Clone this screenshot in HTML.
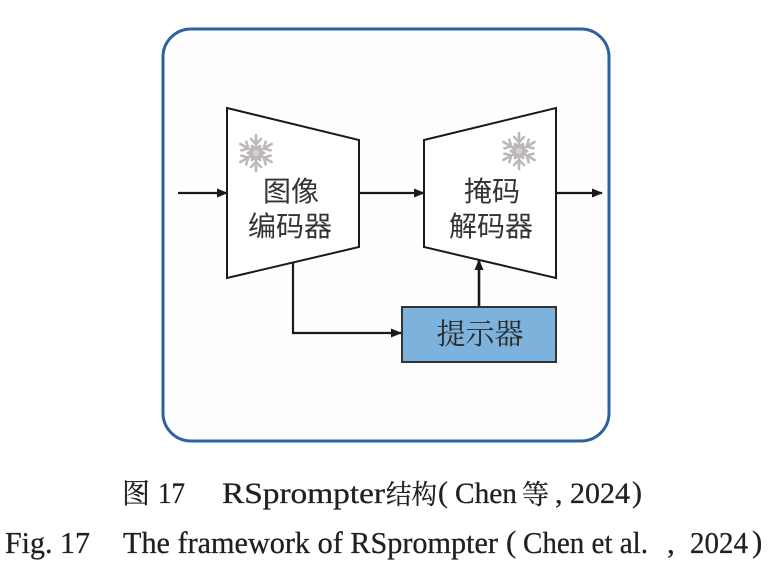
<!DOCTYPE html>
<html><head><meta charset="utf-8"><style>
html,body{margin:0;padding:0;background:#fff;}
svg{display:block;}
</style></head><body>
<svg width="779" height="569" viewBox="0 0 779 569" xmlns="http://www.w3.org/2000/svg">
<defs>
<marker id="ah" markerWidth="11" markerHeight="9" refX="10" refY="4.5" orient="auto" markerUnits="userSpaceOnUse">
<path d="M0,0 L11,4.5 L0,9 z" fill="#1a1a1a"/>
</marker>
<g id="flake" stroke="#bdb8b8" stroke-width="2.6" fill="none" stroke-linecap="round">
<line x1="0" y1="-18" x2="0" y2="18"/>
<line x1="-15.6" y1="-9" x2="15.6" y2="9"/>
<line x1="-15.6" y1="9" x2="15.6" y2="-9"/>
<g id="br"><path d="M-5,-14 L0,-9 L5,-14 M-4,-7 L0,-4 L4,-7"/></g>
<use href="#br" transform="rotate(60)"/>
<use href="#br" transform="rotate(120)"/>
<use href="#br" transform="rotate(180)"/>
<use href="#br" transform="rotate(240)"/>
<use href="#br" transform="rotate(300)"/>
<circle r="4" fill="#d4d0d0" stroke="#bdb8b8" stroke-width="1.5"/>
</g>
</defs>

<!-- outer rounded frame -->
<rect x="163" y="29" width="446" height="412" rx="28" ry="28" fill="#fefefe" stroke="#2d62a0" stroke-width="3"/>

<!-- encoder trapezoid -->
<polygon points="227,108 359,140 359,247 227,278" fill="#fff" stroke="#1a1a1a" stroke-width="2"/>
<!-- decoder trapezoid -->
<polygon points="424,140 556,108 556,278 424,247" fill="#fff" stroke="#1a1a1a" stroke-width="2"/>

<!-- snowflakes -->
<use href="#flake" transform="translate(256,153)"/>
<use href="#flake" transform="translate(519,151)"/>

<!-- arrows -->
<line x1="178" y1="193" x2="227" y2="193" stroke="#1a1a1a" stroke-width="2.2" marker-end="url(#ah)"/>
<line x1="359" y1="193" x2="424" y2="193" stroke="#1a1a1a" stroke-width="2.2" marker-end="url(#ah)"/>
<line x1="556" y1="193" x2="602" y2="193" stroke="#1a1a1a" stroke-width="2.2" marker-end="url(#ah)"/>
<polyline points="293,263 293,333 401,333" fill="none" stroke="#1a1a1a" stroke-width="2.2" marker-end="url(#ah)"/>
<line x1="479" y1="307" x2="479" y2="260" stroke="#1a1a1a" stroke-width="2.6" marker-end="url(#ah)"/>

<!-- prompter box -->
<rect x="402" y="307" width="154" height="55" fill="#7db2dc" stroke="#333" stroke-width="2"/>

<!-- labels -->
<g font-family="'Noto Sans CJK SC', 'WenQuanYi Zen Hei', sans-serif" font-size="28" fill="#333" text-anchor="middle">
<text x="291" y="201">图像</text>
<text x="290" y="236">编码器</text>
<text x="492" y="201">掩码</text>
<text x="491" y="236">解码器</text>
</g>
<text x="480" y="344" font-family="'Noto Serif CJK SC', serif" font-size="29" fill="#2a2a2a" text-anchor="middle">提示器</text>

<!-- caption line 1 -->
<g fill="#231f20" font-size="30" stroke="#231f20" stroke-width="0.3">
<text x="122" y="503" font-family="'Noto Serif CJK SC', serif" font-size="28">图</text>
<text x="158" y="503" font-family="'Liberation Serif', serif" textLength="27" lengthAdjust="spacingAndGlyphs">17</text>
<text x="222" y="503" font-family="'Liberation Serif', serif" textLength="163" lengthAdjust="spacingAndGlyphs">RSprompter</text>
<text x="386" y="504" font-family="'Noto Serif CJK SC', serif" font-size="27" textLength="51" lengthAdjust="spacingAndGlyphs">结构</text>
<text x="438" y="502" font-family="'Liberation Serif', serif">(</text>
<text x="455" y="503" font-family="'Liberation Serif', serif" textLength="62" lengthAdjust="spacingAndGlyphs">Chen</text>
<text x="522" y="504" font-family="'Noto Serif CJK SC', serif" font-size="27">等</text>
<text x="555" y="503" font-family="'Liberation Serif', serif">,</text>
<text x="570" y="503" font-family="'Liberation Serif', serif" textLength="60" lengthAdjust="spacingAndGlyphs">2024</text>
<text x="632" y="502" font-family="'Liberation Serif', serif">)</text>
</g>

<!-- caption line 2 -->
<g fill="#231f20" font-family="'Liberation Serif', serif" font-size="31" stroke="#231f20" stroke-width="0.3">
<text x="5" y="553" textLength="85" lengthAdjust="spacingAndGlyphs">Fig. 17</text>
<text x="123" y="553" textLength="375" lengthAdjust="spacingAndGlyphs">The framework of RSprompter</text>
<text x="506" y="552">(</text>
<text x="523" y="553" textLength="125" lengthAdjust="spacingAndGlyphs">Chen et al.</text>
<text x="667" y="553">,</text>
<text x="690" y="553" textLength="58" lengthAdjust="spacingAndGlyphs">2024</text>
<text x="752" y="552">)</text>
</g>
</svg>
</body></html>
